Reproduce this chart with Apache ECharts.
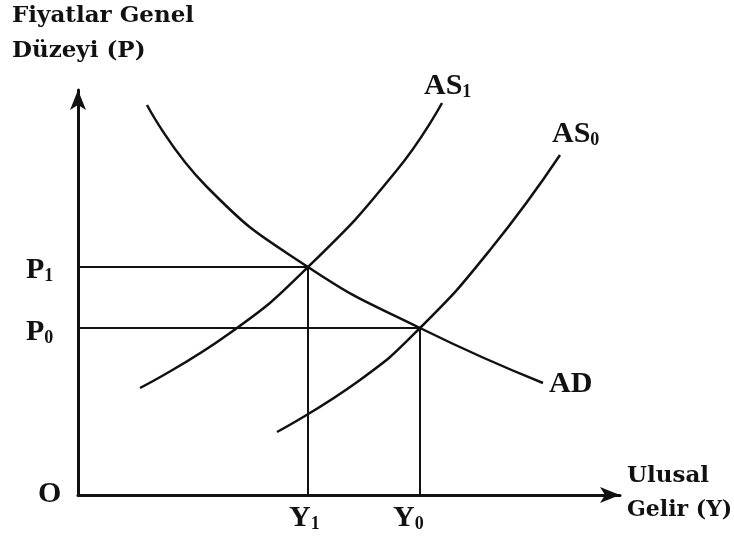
<!DOCTYPE html>
<html lang="tr">
<head>
    <meta charset="UTF-8">
    <title>AS-AD</title>
    <script src="https://cdn.jsdelivr.net/npm/echarts@6/dist/echarts.min.js"></script>
    <style type="text/css">
        html, body { margin: 0; padding: 0; background: #fff; }
        #main { width: 734px; height: 543px; }
    </style>
</head>
<body>
<div id="main"></div>
<script type="text/javascript">
    // curve points, O = (0,0)
    var adPts = [[69, 390], [129, 308], [230, 228], [342, 167], [465, 112]];
    var as1Pts = [[62, 107], [152, 162], [230, 228], [319, 325], [364, 392]];
    var as0Pts = [[199, 63], [282, 115], [342, 167], [412, 245], [482, 340]];
    // equilibrium points
    var e1 = [230, 228];
    var e0 = [342, 167];

    var labelFont = '"Liberation Serif", "Times New Roman", serif';
    var titleFont = '"DejaVu Serif", serif';
    var curveStyle = { color: '#111', width: 2.5 };

    function guide(p) {
        return [[0, p[1]], p, [p[0], 0]];
    }

    function txt(x, y, text, size, fam, rich) {
        return {
            type: 'text', left: x, top: y,
            style: { text: text, font: 'bold ' + size + 'px ' + fam, fill: '#111', rich: rich }
        };
    }

    var subRich = {
        a: { fontFamily: labelFont, fontWeight: 'bold', fontSize: 30, fill: '#111' },
        s: { fontFamily: labelFont, fontWeight: 'bold', fontSize: 18, fill: '#111', padding: [12, 0, 0, 0] }
    };

    var myChart = echarts.init(document.getElementById('main'));
    var option = {
        animation: false,
        grid: { left: 78, top: 90, width: 542, height: 405 },
        xAxis: {
            type: 'value', min: 0, max: 542,
            axisLine: { lineStyle: { color: '#111', width: 3 }, symbol: ['none', 'arrow'], symbolSize: [12, 20] },
            axisTick: { show: false }, axisLabel: { show: false }, splitLine: { show: false }
        },
        yAxis: {
            type: 'value', min: 0, max: 405,
            axisLine: { lineStyle: { color: '#111', width: 3 }, symbol: ['none', 'arrow'], symbolSize: [12, 20] },
            axisTick: { show: false }, axisLabel: { show: false }, splitLine: { show: false }
        },
        series: [
            { type: 'line', data: adPts, smooth: 0.5, showSymbol: false, lineStyle: curveStyle },
            { type: 'line', data: as1Pts, smooth: 0.5, showSymbol: false, lineStyle: curveStyle },
            { type: 'line', data: as0Pts, smooth: 0.5, showSymbol: false, lineStyle: curveStyle },
            { type: 'line', data: guide(e1), showSymbol: false, lineStyle: { color: '#111', width: 2 } },
            { type: 'line', data: guide(e0), showSymbol: false, lineStyle: { color: '#111', width: 2 } }
        ],
        graphic: [
            txt(12, 5, 'Fiyatlar Genel', 23, titleFont),
            txt(12, 40, 'Düzeyi (P)', 23, titleFont),
            txt(627, 465, 'Ulusal', 23, titleFont),
            txt(627, 499, 'Gelir (Y)', 22, titleFont),
            txt(38, 479, 'O', 30, labelFont),
            txt(26, 255, '{a|P}{s|1}', 30, labelFont, subRich),
            txt(26, 317, '{a|P}{s|0}', 30, labelFont, subRich),
            txt(289, 503, '{a|Y}{s|1}', 30, labelFont, subRich),
            txt(393, 503, '{a|Y}{s|0}', 30, labelFont, subRich),
            txt(424, 71, '{a|AS}{s|1}', 30, labelFont, subRich),
            txt(552, 119, '{a|AS}{s|0}', 30, labelFont, subRich),
            txt(549, 369, 'AD', 30, labelFont)
        ]
    };
    myChart.setOption(option);
</script>
</body>
</html>
